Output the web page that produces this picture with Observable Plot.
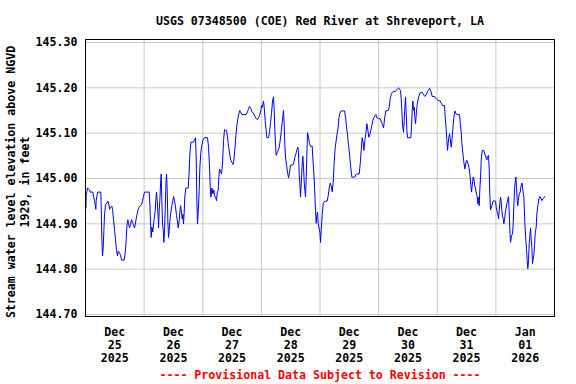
<!DOCTYPE html>
<html><head><meta charset="utf-8">
<script src="https://cdn.jsdelivr.net/npm/d3@7"></script>
<script src="https://cdn.jsdelivr.net/npm/@observablehq/plot@0.6"></script>
<style>html,body{margin:0;padding:0;background:#fff;}</style>
</head><body><div id="chart"></div>
<script>
const title = "USGS 07348500 (COE) Red River at Shreveport, LA";
const yLabel1 = "Stream water level elevation above NGVD";
const yLabel2 = "1929, in feet";
const caption = "---- Provisional Data Subject to Revision ----";
const startTime = "2025-12-25T00:00:00Z";
const endTime = "2026-01-02T00:00:00Z";
const dayStarts = ["2025-12-26","2025-12-27","2025-12-28","2025-12-29","2025-12-30","2025-12-31","2026-01-01"];
const dayLabelTimes = ["2025-12-25T12:00:00Z","2025-12-26T12:00:00Z","2025-12-27T12:00:00Z","2025-12-28T12:00:00Z","2025-12-29T12:00:00Z","2025-12-30T12:00:00Z","2025-12-31T12:00:00Z","2026-01-01T12:00:00Z"];
const dayLabels = ["Dec\n25\n2025","Dec\n26\n2025","Dec\n27\n2025","Dec\n28\n2025","Dec\n29\n2025","Dec\n30\n2025","Dec\n31\n2025","Jan\n01\n2026"];
const yTicks = [144.7, 144.8, 144.9, 145.0, 145.1, 145.2, 145.3];

// hours since 2025-12-25 00:00
const hoursSinceStart = [
0.20,0.30,0.83,1.65,1.92,3.02,3.29,3.70,3.97,4.24,
4.38,4.65,5.06,6.29,6.43,6.70,6.97,7.25,7.52,7.79,
8.20,8.75,9.16,9.57,9.84,10.25,10.79,11.07,11.48,11.89,
12.30,12.70,13.11,13.39,13.93,14.34,14.75,15.84,16.25,16.66,
16.93,17.34,17.62,18.03,18.44,18.85,19.25,19.66,20.07,20.48,
20.75,21.16,21.57,21.98,22.39,22.94,23.35,23.76,24.17,26.08,
26.35,26.62,26.90,27.17,27.58,27.85,28.12,28.53,28.81,29.08,
29.35,29.76,29.90,30.17,30.44,30.72,30.99,31.26,31.54,31.81,
32.08,32.35,32.63,32.90,33.17,33.45,33.72,33.99,34.27,34.54,
34.95,35.36,35.77,36.04,36.45,36.86,37.27,37.68,37.95,38.36,
38.63,38.90,39.18,39.59,39.86,40.13,40.41,40.68,41.09,42.04,
42.32,42.73,43.14,44.23,44.64,45.05,45.32,45.59,45.86,46.14,
46.55,46.82,47.23,47.64,48.05,48.59,49.96,50.37,50.78,51.05,
51.32,51.73,52.14,52.55,52.82,53.23,53.64,53.91,54.32,54.60,
54.87,55.28,55.69,56.10,56.51,56.92,57.33,57.74,58.15,58.42,
58.83,59.24,59.51,59.92,60.33,60.74,61.15,61.56,61.97,62.38,
62.79,63.20,
63.33,64.01,65.79,66.33,67.15,67.70,68.11,68.79,69.33,69.88,
70.43,70.84,71.24,71.79,72.06,72.47,72.88,73.16,73.56,73.97,
74.25,74.93,75.34,75.75,76.16,76.57,76.98,77.25,77.52,77.80,
78.07,78.48,78.89,79.30,79.71,80.11,80.52,80.80,81.07,81.34,
81.62,81.89,82.30,82.71,83.12,83.53,83.94,84.89,85.30,85.71,
86.12,86.53,86.94,87.21,87.48,87.76,88.03,88.30,88.71,88.98,
89.26,89.53,89.80,90.08,90.35,90.62,90.90,91.30,91.71,92.12,
92.81,93.08,93.49,93.76,94.17,94.44,94.72,94.99,95.26,95.53,
95.95,96.22,96.49,96.90,97.31,97.86,98.95,99.36,99.77,100.17,
100.58,100.99,101.40,101.81,102.22,102.63,103.04,103.45,103.72,104.13,
104.68,106.04,106.45,106.86,107.27,107.68,108.09,108.50,109.04,110.27,
110.68,111.09,112.05,112.46,112.87,113.27,113.68,113.96,114.37,114.78,
115.19,115.60,116.01,116.41,116.82,117.23,117.64,118.05,118.46,118.87,
119.28,119.96,120.64,121.19,121.60,122.01,122.28,122.56,122.96,123.92,
124.33,124.74,125.15,125.56,125.96,126.78,127.19,127.74,128.15,128.56,
128.97,129.24,129.51,129.79,130.20,
130.47,130.74,131.01,131.29,131.56,131.83,133.20,133.47,133.74,134.02,
134.29,134.56,134.83,135.11,135.38,135.65,136.06,136.47,137.02,137.84,
138.38,138.93,139.47,139.88,140.29,140.84,141.38,141.93,142.89,143.57,
144.39,145.21,145.75,146.16,146.98,147.25,147.66,147.93,148.21,148.48,
148.75,149.03,149.30,149.71,149.98,150.39,150.80,151.21,151.62,152.03,
153.12,153.39,153.80,154.07,154.48,154.89,155.30,155.71,156.12,156.53,
156.94,157.35,157.76,158.03,158.31,158.71,158.99,159.26,159.67,160.08,
160.35,160.63,160.90,161.17,161.44,161.72,161.99,162.40,163.08,163.49,
163.90,164.31,164.58,164.99,165.26,165.54,165.81,166.08,166.36,166.77,
167.04,167.86,168.13,168.54,168.81,169.09,169.36,169.63,169.90,170.18,
170.45,170.72,171.00,171.27,171.54,171.81,172.22,172.63,172.91,173.18,
173.45,173.72,174.00,174.41,174.82,175.09,175.36,175.64,175.91,176.18,
176.45,176.73,177.00,177.27,177.55,177.96,178.23,178.50,178.77,179.05,
179.46,179.87,180.28,180.55,180.82,181.09,181.37,181.64,181.91,182.19,
182.46,182.73,183.00,183.28,183.55,183.82,184.10,184.50,184.78,185.19,
185.60,186.01,186.42,186.83,187.24,187.65,187.92
];

// stream water level elevation, feet
const stageFeet = [
144.935,144.964,144.979,144.975,144.970,144.970,144.961,144.951,144.942,144.932,
144.951,144.961,144.970,144.970,144.937,144.865,144.829,144.848,144.885,144.920,
144.942,144.946,144.950,144.942,144.932,144.937,144.939,144.932,144.909,144.887,
144.865,144.841,144.829,144.840,144.836,144.831,144.820,144.820,144.836,144.865,
144.895,144.909,144.900,144.891,144.900,144.909,144.902,144.898,144.891,144.902,
144.911,144.922,144.932,144.937,144.940,144.942,144.951,144.961,144.970,144.970,
144.944,144.900,144.870,144.893,144.882,144.900,144.911,144.929,144.955,144.970,
144.951,144.915,144.891,144.929,144.951,144.988,145.010,144.951,144.900,144.887,
144.859,144.885,144.929,144.985,145.010,144.974,144.905,144.870,144.885,144.905,
144.926,144.940,144.951,144.960,144.951,144.937,144.918,144.904,144.891,144.907,
144.926,144.940,144.931,144.911,144.921,144.900,144.926,144.961,144.979,144.979,
145.003,145.054,145.080,145.080,145.086,145.090,145.043,144.948,144.900,144.926,
144.974,145.025,145.058,145.073,145.084,145.090,145.090,145.069,145.025,144.981,
144.959,144.979,144.966,144.975,144.962,144.959,144.951,144.968,144.974,145.003,
145.021,145.016,145.010,145.034,145.084,145.108,145.106,145.106,145.091,145.077,
145.062,145.047,145.040,145.036,145.031,145.040,145.064,145.095,145.117,145.132,
145.143,145.150,
145.148,145.141,145.141,145.148,145.159,145.154,145.148,145.143,145.137,145.132,
145.130,145.134,145.139,145.150,145.161,145.157,145.171,145.157,145.128,145.106,
145.090,145.090,145.102,145.124,145.144,145.171,145.180,145.150,145.106,145.073,
145.051,145.057,145.062,145.069,145.084,145.102,145.124,145.137,145.150,145.117,
145.073,145.047,145.029,145.014,145.001,145.014,145.029,145.030,145.036,145.047,
145.054,145.063,145.069,145.057,145.010,144.988,144.959,144.988,145.032,145.049,
145.025,144.992,144.974,144.959,145.003,145.051,145.101,145.091,145.077,145.071,
145.071,145.043,145.010,144.982,144.929,144.901,144.918,144.926,144.901,144.893,
144.882,144.859,144.885,144.920,144.944,144.950,144.950,144.962,144.979,144.990,
144.984,144.971,144.992,145.036,145.068,145.084,145.100,145.113,145.132,145.144,
145.149,145.149,145.135,145.113,145.097,145.073,145.054,145.029,145.003,145.003,
145.009,145.010,145.010,145.032,145.062,145.090,145.078,145.062,145.084,145.099,
145.121,145.106,145.091,145.097,145.106,145.117,145.128,145.134,145.138,145.141,
145.134,145.132,145.132,145.124,145.119,145.112,145.124,145.137,145.149,145.150,
145.157,145.176,145.185,145.190,145.192,145.192,145.194,145.198,145.200,145.197,
145.194,145.176,145.150,145.117,145.102,
145.128,145.157,145.180,145.143,145.106,145.090,145.090,145.113,145.150,145.171,
145.150,145.157,145.134,145.121,145.139,145.157,145.172,145.181,145.190,145.190,
145.185,145.181,145.185,145.190,145.194,145.199,145.193,145.181,145.181,145.176,
145.172,145.171,145.165,145.161,145.161,145.135,145.110,145.084,145.062,145.077,
145.091,145.099,145.088,145.069,145.084,145.110,145.135,145.149,145.144,145.141,
145.141,145.124,145.102,145.077,145.056,145.036,145.021,145.034,145.040,145.034,
145.025,145.010,144.985,144.970,144.985,145.003,144.999,144.988,144.977,144.966,
144.960,144.944,144.959,144.940,144.977,145.003,145.040,145.062,145.062,145.054,
145.047,145.041,145.049,145.051,145.021,144.962,144.931,144.935,144.940,144.948,
144.951,144.950,144.937,144.926,144.921,144.911,144.929,144.944,144.959,144.948,
144.929,144.918,144.911,144.900,144.911,144.922,144.937,144.948,144.955,144.960,
144.926,144.885,144.859,144.874,144.878,144.900,144.940,144.977,144.992,145.003,
144.981,144.951,144.940,144.955,144.966,144.970,144.981,144.988,144.990,144.974,
144.959,144.900,144.863,144.845,144.819,144.801,144.819,144.856,144.874,144.891,
144.867,144.848,144.812,144.823,144.830,144.852,144.878,144.893,144.922,144.940,
144.955,144.960,144.957,144.951,144.955,144.957,144.960
];

const t0 = new Date(startTime).getTime();
const n = Math.min(hoursSinceStart.length, stageFeet.length);
const data = [];
for (let i = 0; i < n; i++) data.push({date: new Date(t0 + hoursSinceStart[i] * 3600e3), stage: stageFeet[i]});

const labelTimes = dayLabelTimes.map(s => new Date(s));
const labelMap = new Map(labelTimes.map((d, i) => [+d, dayLabels[i]]));
const gridDates = dayStarts.map(s => new Date(s + "T00:00:00Z"));

const font = "DejaVu Sans Mono";
const chart = Plot.plot({
  width: 576,
  height: 384,
  marginLeft: 85,
  marginRight: 22,
  marginTop: 39,
  marginBottom: 68,
  style: {fontFamily: font, fontSize: "11.6px", fontWeight: "bold", background: "#fff", color: "#000"},
  x: {type: "utc", domain: [new Date(startTime), new Date(endTime)]},
  y: {domain: [144.7, 145.3], insetTop: 3, insetBottom: 2},
  marks: [
    Plot.gridY(yTicks, {stroke: "#c8c8c8", strokeOpacity: 1, strokeWidth: 1}),
    Plot.gridX(gridDates, {stroke: "#c8c8c8", strokeOpacity: 1, strokeWidth: 1}),
    Plot.axisY(yTicks, {tickSize: 0, tickPadding: 8, tickFormat: d3.format(".2f"), label: null, fill: "#000"}),
    Plot.axisX(labelTimes, {tickSize: 0, tickPadding: 10, tickFormat: d => labelMap.get(+d), label: null, lineHeight: 1.12, fill: "#000"}),
    Plot.line(data, {x: "date", y: "stage", stroke: "#0000ff", strokeWidth: 1}),
    Plot.frame({stroke: "#000", strokeWidth: 1}),
    Plot.text([title], {frameAnchor: "top", dy: -18, lineAnchor: "middle", textAnchor: "middle", fill: "#000"}),
    Plot.text([yLabel1], {frameAnchor: "left", rotate: -90, dx: -74.5, dy: 4, lineAnchor: "middle", textAnchor: "middle", fill: "#000"}),
    Plot.text([yLabel2], {frameAnchor: "left", rotate: -90, dx: -60.5, dy: 4, lineAnchor: "middle", textAnchor: "middle", fill: "#000"}),
    Plot.text([caption], {frameAnchor: "bottom", dy: 59, lineAnchor: "middle", textAnchor: "middle", fill: "#ff0000"})
  ]
});
document.getElementById("chart").appendChild(chart);
</script>
</body></html>
